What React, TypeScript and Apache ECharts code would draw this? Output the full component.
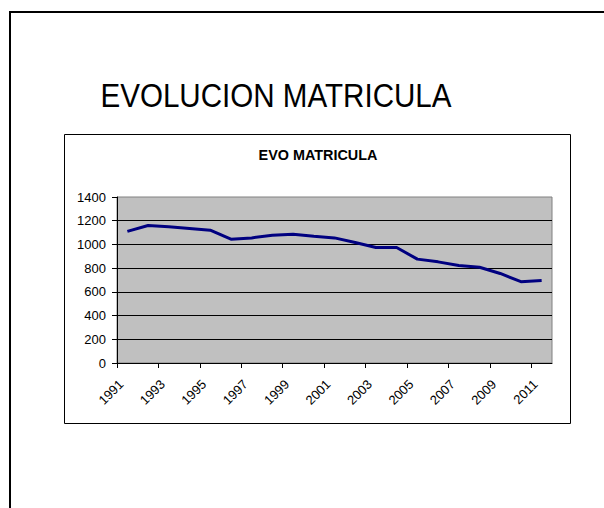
import React, { useEffect, useRef } from "react";
import * as echarts from "echarts";

const years = [1991, 1992, 1993, 1994, 1995, 1996, 1997, 1998, 1999, 2000, 2001, 2002, 2003, 2004, 2005, 2006, 2007, 2008, 2009, 2010, 2011];
const matricula = [1110, 1160, 1150, 1135, 1120, 1044, 1055, 1078, 1086, 1069, 1055, 1016, 974, 974, 876, 853, 822, 808, 755, 686, 696];
const tickYears = [1991, 1993, 1995, 1997, 1999, 2001, 2003, 2005, 2007, 2009, 2011];
const yMin = 0;
const yMax = 1400;
const yStep = 200;

const mainTitle = "EVOLUCION MATRICULA";
const chartTitle = "EVO MATRICULA";

const FONT = "'Liberation Sans', Arial, sans-serif";

export default function App() {
  const ref = useRef<HTMLDivElement>(null);

  useEffect(() => {
    if (!ref.current) return;
    const chart = echarts.init(ref.current, null, { renderer: "svg" });
    const tickPos = tickYears.map((y) => y - 0.5);
    const labelPos = tickYears.map((y) => y - 0.3);
    chart.setOption({
      animation: false,
      backgroundColor: "#ffffff",
      textStyle: { fontFamily: FONT },
      graphic: [
        {
          type: "rect",
          shape: { x: 10, y: 12, width: 700, height: 600 },
          style: { fill: "none", stroke: "#000", lineWidth: 2 },
          silent: true,
        },
        {
          type: "rect",
          shape: { x: 64.5, y: 134.5, width: 506, height: 289 },
          style: { fill: "none", stroke: "#000", lineWidth: 1 },
          silent: true,
        },
        {
          type: "text",
          x: 276,
          y: 95,
          scaleX: 0.87,
          style: {
            text: mainTitle,
            fontSize: 34,
            fontFamily: FONT,
            fill: "#000",
            textAlign: "center",
            textVerticalAlign: "middle",
          },
        },
        {
          type: "text",
          x: 318,
          y: 155,
          scaleX: 0.96,
          style: {
            text: chartTitle,
            fontSize: 15,
            fontWeight: "bold",
            fontFamily: FONT,
            fill: "#000",
            textAlign: "center",
            textVerticalAlign: "middle",
          },
        },
      ],
      grid: {
        left: 117,
        top: 197,
        width: 435,
        height: 166,
        show: true,
        backgroundColor: "#c0c0c0",
        borderColor: "#808080",
        borderWidth: 1,
        containLabel: false,
      },
      xAxis: {
        type: "value",
        min: years[0] - 0.5,
        max: years[years.length - 1] + 0.5,
        axisLine: { show: true, onZero: false, lineStyle: { color: "#000", width: 1 } },
        axisTick: {
          show: true,
          length: 5,
          inside: false,
          customValues: tickPos,
          lineStyle: { color: "#000" },
        },
        axisLabel: {
          show: true,
          customValues: labelPos,
          rotate: 45,
          margin: 19,
          fontSize: 13,
          color: "#000",
          fontFamily: FONT,
          formatter: (v: number) => String(Math.round(v + 0.3)),
        },
        splitLine: { show: false },
      },
      yAxis: {
        type: "value",
        min: yMin,
        max: yMax,
        interval: yStep,
        axisLine: { show: true, lineStyle: { color: "#000", width: 1 } },
        axisTick: { show: true, length: 5, inside: false, lineStyle: { color: "#000" } },
        axisLabel: {
          fontSize: 13,
          color: "#000",
          margin: 11,
          fontFamily: FONT,
          formatter: (v: number) => String(v),
        },
        splitLine: {
          show: true,
          showMaxLine: false,
          showMinLine: false,
          lineStyle: { color: "#000", width: 1 },
        },
      },
      series: [
        {
          type: "line",
          data: years.map((y, i) => [y, matricula[i]]),
          symbol: "none",
          showSymbol: false,
          lineStyle: { color: "#000080", width: 3 },
          itemStyle: { color: "#000080" },
          z: 5,
        },
      ],
    });
    return () => chart.dispose();
  }, []);

  return (
    <div
      ref={ref}
      style={{ position: "fixed", left: 0, top: 0, width: 604, height: 508 }}
    />
  );
}
